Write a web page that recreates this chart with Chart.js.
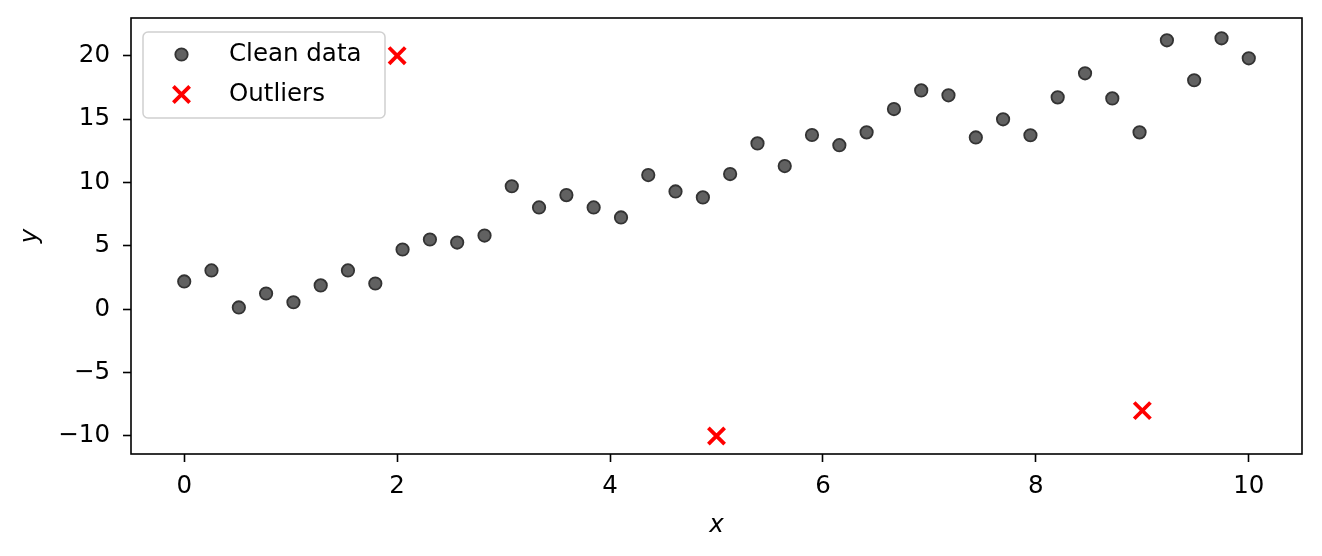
<!DOCTYPE html>
<html lang="en">
<head>
    <meta charset="UTF-8">
    <title>Clean data vs outliers</title>
    <script src="https://cdn.jsdelivr.net/npm/chart.js"></script>
    <style>
        body { margin: 0; background: #fff; }
        .box { width: 1322px; height: 556px; position: relative; }
    </style>
</head>
<body>
<div class="box">
    <canvas id="grafico"></canvas>
</div>

<script>
    // dados
    var xClean = [0, 0.256, 0.513, 0.769, 1.026, 1.282, 1.538, 1.795, 2.051, 2.308,
        2.564, 2.821, 3.077, 3.333, 3.590, 3.846, 4.103, 4.359, 4.615, 4.872,
        5.128, 5.385, 5.641, 5.897, 6.154, 6.410, 6.667, 6.923, 7.179, 7.436,
        7.692, 7.949, 8.205, 8.462, 8.718, 8.974, 9.231, 9.487, 9.744, 10];
    var yClean = [2.19, 3.06, 0.14, 1.24, 0.55, 1.88, 3.06, 2.03, 4.71, 5.50,
        5.26, 5.81, 9.70, 8.03, 9.00, 8.03, 7.24, 10.58, 9.29, 8.82,
        10.66, 13.08, 11.29, 13.74, 12.94, 13.95, 15.79, 17.26, 16.87, 13.55,
        14.98, 13.72, 16.71, 18.61, 16.63, 13.95, 21.21, 18.06, 21.37, 19.79];
    var xOut = [2, 5, 9];
    var yOut = [20, -10, -8];

    var xTicks = [0, 2, 4, 6, 8, 10];
    var yTicks = [-10, -5, 0, 5, 10, 15, 20];

    var fonte = "'DejaVu Sans', sans-serif";
    var tam = 24.5;

    function pontos(xs, ys) {
        var lista = [];
        for (var i = 0; i < xs.length; i++) {
            lista.push({ x: xs[i], y: ys[i] });
        }
        return lista;
    }

    function menos(v) {
        return String(v).replace('-', '\u2212');
    }

    // moldura em volta da area do grafico (como os spines do matplotlib)
    var moldura = {
        id: 'moldura',
        afterDraw: function (chart) {
            var a = chart.chartArea, ctx = chart.ctx;
            ctx.save();
            ctx.strokeStyle = '#000';
            ctx.lineWidth = 1.6;
            ctx.strokeRect(a.left, a.top, a.right - a.left, a.bottom - a.top);
            ctx.restore();
        }
    };

    // legenda desenhada dentro do grafico, canto superior esquerdo
    var legendaDentro = {
        id: 'legendaDentro',
        afterDraw: function (chart) {
            var a = chart.chartArea, ctx = chart.ctx;
            var x0 = a.left + 12, y0 = a.top + 14, w = 242, h = 86;
            ctx.save();
            ctx.beginPath();
            ctx.roundRect(x0, y0, w, h, 5);
            ctx.fillStyle = 'rgba(255,255,255,0.8)';
            ctx.fill();
            ctx.strokeStyle = '#d0d0d0';
            ctx.lineWidth = 1.5;
            ctx.stroke();

            chart.data.datasets.forEach(function (ds, i) {
                var cy = y0 + 22.5 + i * 40;
                ctx.fillStyle = ds.backgroundColor;
                ctx.strokeStyle = ds.borderColor;
                ctx.lineWidth = ds.borderWidth;
                Chart.helpers.drawPoint(ctx, {
                    pointStyle: ds.pointStyle,
                    radius: ds.pointRadius,
                    borderWidth: ds.borderWidth,
                    rotation: 0
                }, x0 + 38.5, cy);
                ctx.fillStyle = '#000';
                ctx.font = tam + 'px ' + fonte;
                ctx.textAlign = 'left';
                ctx.textBaseline = 'middle';
                ctx.fillText(ds.label, x0 + 86, cy);
            });
            ctx.restore();
        }
    };

    var dados = {
        datasets: [{
            label: 'Clean data',
            data: pontos(xClean, yClean),
            pointStyle: 'circle',
            pointRadius: 6.2,
            borderWidth: 1.8,
            backgroundColor: '#616161',
            borderColor: '#333333'
        }, {
            label: 'Outliers',
            data: pontos(xOut, yOut),
            pointStyle: 'crossRot',
            pointRadius: 11.5,
            borderWidth: 3.8,
            backgroundColor: '#ff0000',
            borderColor: '#ff0000'
        }]
    };

    var config = {
        type: 'scatter',
        data: dados,
        plugins: [moldura, legendaDentro],
        options: {
            responsive: true,
            maintainAspectRatio: false,
            animation: false,
            events: [],
            layout: { padding: { left: 0, right: 20, top: 18, bottom: 0 } },
            plugins: {
                legend: { display: false },
                tooltip: { enabled: false }
            },
            scales: {
                x: {
                    type: 'linear',
                    min: -0.5,
                    max: 10.5,
                    afterBuildTicks: function (s) {
                        s.ticks = xTicks.map(function (v) { return { value: v }; });
                    },
                    afterFit: function (s) {
                        s.height = 102;
                        s.paddingLeft = 0;
                        s.paddingRight = 0;
                    },
                    border: { display: false },
                    grid: {
                        drawOnChartArea: false,
                        drawTicks: true,
                        tickLength: 8,
                        tickWidth: 1.6,
                        tickColor: '#000'
                    },
                    ticks: {
                        color: '#000',
                        padding: 10,
                        maxRotation: 0,
                        font: { family: fonte, size: tam },
                        callback: function (v) { return menos(v); }
                    },
                    title: {
                        display: true,
                        text: 'x',
                        color: '#000',
                        padding: { top: 0, bottom: 16 },
                        font: { family: fonte, size: tam, style: 'italic' }
                    }
                },
                y: {
                    type: 'linear',
                    min: -11.42,
                    max: 22.97,
                    afterBuildTicks: function (s) {
                        s.ticks = yTicks.map(function (v) { return { value: v }; });
                    },
                    afterFit: function (s) {
                        s.width = 131;
                        s.paddingTop = 0;
                        s.paddingBottom = 0;
                    },
                    border: { display: false },
                    grid: {
                        drawOnChartArea: false,
                        drawTicks: true,
                        tickLength: 8,
                        tickWidth: 1.6,
                        tickColor: '#000'
                    },
                    ticks: {
                        color: '#000',
                        padding: 13,
                        font: { family: fonte, size: tam },
                        callback: function (v) { return menos(v); }
                    },
                    title: {
                        display: true,
                        text: 'y',
                        color: '#000',
                        padding: { top: 16, bottom: 0 },
                        font: { family: fonte, size: tam, style: 'italic' }
                    }
                }
            }
        }
    };

    new Chart(document.getElementById('grafico'), config);
</script>
</body>
</html>
